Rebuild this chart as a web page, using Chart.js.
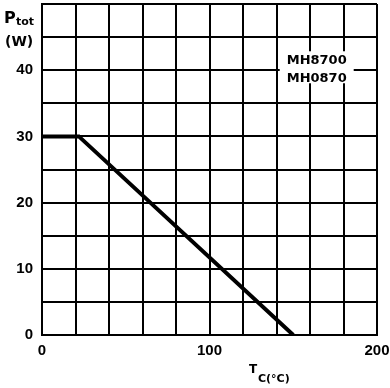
<!DOCTYPE html>
<html><head><meta charset="utf-8">
<script src="https://cdn.jsdelivr.net/npm/chart.js@4"></script>
<style>html,body{margin:0;padding:0;background:#fff}#w{width:390px;height:388px}</style>
</head><body><div id="w"><canvas id="c" width="390" height="388"></canvas></div>
<script>
const tempC = [0, 22, 150];
const powerW = [30, 30, 0];
const xTickLabels = [0, 100, 200];
const yTickLabels = [0, 10, 20, 30, 40];
const deviceLabels = ['MH8700', 'MH0870'];

const FONT = '"DejaVu Sans", sans-serif';
const TICKFONT = '"Liberation Sans", Arial, sans-serif';

const textPlugin = {
  id: 'texts',
  afterDatasetsDraw(chart) {
    const ctx = chart.ctx, xs = chart.scales.x, ys = chart.scales.y;
    ctx.save();
    const cx = xs.getPixelForValue(164);
    const y1 = ys.getPixelForValue(41.5), y2 = ys.getPixelForValue(39);
    ctx.fillStyle = '#fff';
    ctx.fillRect(cx - 37, y1 - 9, 74, 32);
    ctx.fillStyle = '#000';
    ctx.font = 'bold 13px ' + FONT;
    ctx.textAlign = 'center';
    ctx.textBaseline = 'middle';
    ctx.fillText(deviceLabels[0], cx, y1);
    ctx.fillText(deviceLabels[1], cx, y2 + 2);
    ctx.textAlign = 'left';
    ctx.textBaseline = 'alphabetic';
    ctx.font = 'bold 16px ' + FONT;
    ctx.fillText('P', 4, 23);
    ctx.font = 'bold 11px ' + FONT;
    ctx.fillText('tot', 16, 25);
    ctx.font = 'bold 14px ' + FONT;
    ctx.fillText('(W)', 5, 46);
    ctx.font = 'bold 12px ' + FONT;
    ctx.fillText('T', 249, 373);
    ctx.font = 'bold 11px ' + FONT;
    ctx.fillText('C(°C)', 258, 382);
    ctx.restore();
  }
};

new Chart(document.getElementById('c'), {
  type: 'line',
  data: {
    datasets: [{
      data: tempC.map((t, i) => ({x: t, y: powerW[i]})),
      borderColor: '#000',
      borderWidth: 4,
      pointRadius: 0,
      tension: 0,
      fill: false
    }]
  },
  options: {
    responsive: false,
    animation: false,
    devicePixelRatio: 1,
    layout: {padding: {top: 4, right: 13, left: 0, bottom: 0}},
    plugins: {legend: {display: false}, tooltip: {enabled: false}},
    scales: {
      x: {
        type: 'linear', min: 0, max: 200,
        afterFit: s => { s.height = 53; s.paddingLeft = 0; s.paddingRight = 0; },
        grid: {color: '#000', lineWidth: 2, drawTicks: false},
        border: {color: '#000', width: 2},
        ticks: {
          stepSize: 20, autoSkip: false, maxRotation: 0, padding: 7,
          color: '#000', font: {family: TICKFONT, weight: 'bold', size: 15},
          callback: v => xTickLabels.includes(v) ? String(v) : ''
        }
      },
      y: {
        type: 'linear', min: 0, max: 50,
        afterFit: s => { s.width = 42; s.paddingTop = 0; s.paddingBottom = 0; },
        grid: {color: '#000', lineWidth: 2, drawTicks: false},
        border: {color: '#000', width: 2},
        ticks: {
          stepSize: 5, autoSkip: false, padding: 9,
          color: '#000', font: {family: TICKFONT, weight: 'bold', size: 15},
          callback: v => yTickLabels.includes(v) ? String(v) : ''
        }
      }
    }
  },
  plugins: [textPlugin]
});
</script>
</body></html>
